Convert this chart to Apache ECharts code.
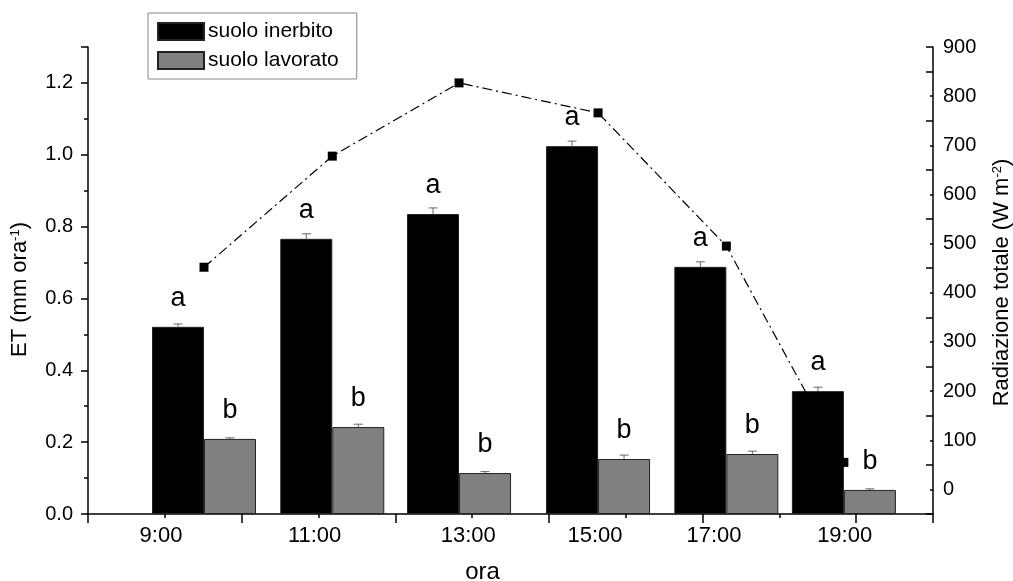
<!DOCTYPE html>
<html>
<head>
<meta charset="utf-8">
<script src="https://cdn.jsdelivr.net/npm/echarts@6/dist/echarts.min.js"></script>
<style>
html,body{margin:0;padding:0;background:#fff;}
#c{width:1013px;height:581px;}
</style>
</head>
<body>
<div id="c"></div>
<script>
// ---- data ----
const groupHour = [9.51, 11.18, 12.83, 14.64, 16.31, 17.84];        // group centre on the time axis (h)
const etInerbito = [0.521, 0.766, 0.835, 1.024, 0.688, 0.342];
const errInerbito = [0.008, 0.014, 0.017, 0.014, 0.014, 0.011];
const etLavorato = [0.209, 0.242, 0.114, 0.153, 0.167, 0.067];
const errLavorato = [0.003, 0.008, 0.004, 0.011, 0.008, 0.003];
const radiazione = [452, 678, 827, 766, 495, 55];
const letInerbito = ['a', 'a', 'a', 'a', 'a', 'a'];
const letLavorato = ['b', 'b', 'b', 'b', 'b', 'b'];
const timeLabels = ['9:00', '11:00', '13:00', '15:00', '17:00', '19:00'];
const timeLabelAt = [8.95, 10.95, 12.95, 14.6, 16.15, 17.85];

const FONT = 'Liberation Sans, Arial, sans-serif';
const BAR_W = 52;

const chart = echarts.init(document.getElementById('c'), null, {renderer: 'canvas'});

function pairs(xs, ys) { return xs.map((x, i) => [x, ys[i]]); }
function triples(xs, ys, es) { return xs.map((x, i) => [x, ys[i], es[i]]); }

function errRender(off) {
  return function (params, api) {
    const x = api.value(0), y = api.value(1), e = api.value(2);
    const p0 = api.coord([x, y]);
    const p1 = api.coord([x, y + e]);
    const cx = p0[0] + off;
    const st = {stroke: '#666', lineWidth: 1};
    return {
      type: 'group',
      children: [
        {type: 'line', shape: {x1: cx, y1: p0[1], x2: cx, y2: p1[1]}, style: st},
        {type: 'line', shape: {x1: cx - 4.5, y1: p1[1], x2: cx + 4.5, y2: p1[1]}, style: st}
      ]
    };
  };
}

const axisLineStyle = {show: true, onZero: false, lineStyle: {color: '#000', width: 1.5}};
const noLine = {show: false, onZero: false};
const sup = {fontSize: 13, lineHeight: 13, verticalAlign: 'top', fontFamily: FONT, color: '#000'};

const option = {
  animation: false,
  backgroundColor: '#fff',
  textStyle: {fontFamily: FONT},
  grid: {left: 88, right: 80, top: 47, bottom: 67, containLabel: false, outerBoundsMode: 'none'},
  legend: {
    orient: 'vertical',
    left: 148, top: 13,
    padding: [8, 18, 8, 9],
    itemWidth: 46, itemHeight: 17, itemGap: 8,
    borderColor: '#888', borderWidth: 1,
    icon: 'rect',
    data: ['suolo inerbito', 'suolo lavorato'],
    textStyle: {fontSize: 21, color: '#000', fontFamily: FONT, padding: [0, 0, 0, -1]}
  },
  xAxis: [
    { // main axis with major ticks
      type: 'value', min: 8, max: 19, interval: 2, position: 'bottom', offset: 0,
      axisLine: axisLineStyle,
      axisTick: {show: true, length: 9, lineStyle: {color: '#000', width: 1.5}},
      axisLabel: {show: false}, splitLine: {show: false},
      name: 'ora', nameLocation: 'middle', nameGap: 46,
      nameTextStyle: {fontSize: 24, color: '#000', fontFamily: FONT, padding: [0, 56, 0, 0]}
    },
    { // minor ticks
      type: 'value', min: 8, max: 19, interval: 1, position: 'bottom', offset: 0,
      axisLine: noLine,
      axisTick: {show: true, length: 4, lineStyle: {color: '#000', width: 1.5}},
      axisLabel: {show: false}, splitLine: {show: false}
    },
    { // hour labels
      type: 'value', min: 8, max: 19, interval: 0.05, position: 'bottom', offset: 0,
      axisLine: noLine, axisTick: {show: false}, splitLine: {show: false},
      axisLabel: {
        show: true, margin: 11, fontSize: 22, color: '#000', fontFamily: FONT,
        showMinLabel: true, showMaxLabel: true,
        formatter: function (v) {
          for (let i = 0; i < timeLabelAt.length; i++) {
            if (Math.abs(v - timeLabelAt[i]) < 0.01) return timeLabels[i];
          }
          return '';
        }
      }
    }
  ],
  yAxis: [
    { // left ET axis (minor step)
      type: 'value', min: 0, max: 1.3, interval: 0.1, position: 'left', offset: 0,
      axisLine: axisLineStyle,
      axisTick: {show: true, length: 4, lineStyle: {color: '#000', width: 1.5}},
      splitLine: {show: false},
      axisLabel: {
        margin: 15, fontSize: 20, color: '#000', fontFamily: FONT,
        formatter: function (v) {
          const k = Math.round(v * 10);
          return (k % 2 === 0 && k <= 12) ? (k / 10).toFixed(1) : '';
        }
      },
      name: 'ET (mm ora{sup|-1})', nameLocation: 'middle', nameRotate: 90, nameGap: 57,
      nameTextStyle: {fontSize: 22, color: '#000', fontFamily: FONT, rich: {sup: sup}, padding: [0, 18, 0, 0]}
    },
    { // right radiation axis (minor step)
      type: 'value', min: -50, max: 900, interval: 50, position: 'right', offset: 0,
      axisLine: axisLineStyle,
      axisTick: {show: true, inside: true, length: 3, lineStyle: {color: '#000', width: 1.5}},
      splitLine: {show: false},
      axisLabel: {
        margin: 10, fontSize: 20, color: '#000', fontFamily: FONT,
        formatter: function (v) {
          const r = Math.round(v);
          return (r >= 0 && r % 100 === 0) ? String(r) : '';
        }
      },
      name: 'Radiazione totale (W m{sup|-2})', nameLocation: 'middle', nameRotate: 90, nameGap: 58,
      nameTextStyle: {fontSize: 22, color: '#000', fontFamily: FONT, rich: {sup: sup}, padding: [0, 4, 0, 0]}
    },
    { // left major ticks
      type: 'value', min: 0, max: 1.3, interval: 0.2, position: 'left', offset: 0,
      axisLine: noLine, axisLabel: {show: false}, splitLine: {show: false},
      axisTick: {show: true, length: 7, lineStyle: {color: '#000', width: 1.5}}
    },
    { // right major ticks
      type: 'value', min: -50, max: 900, interval: 100, position: 'right', offset: 0,
      axisLine: noLine, axisLabel: {show: false}, splitLine: {show: false},
      axisTick: {show: true, inside: true, length: 7, lineStyle: {color: '#000', width: 1.5}}
    }
  ],
  series: [
    {
      name: 'suolo inerbito', type: 'bar', xAxisIndex: 0, yAxisIndex: 0,
      barWidth: BAR_W, barGap: '0%',
      data: pairs(groupHour, etInerbito),
      itemStyle: {color: '#000', borderColor: '#222', borderWidth: 1},
      label: {
        show: true, position: 'top', distance: 15, fontSize: 27, color: '#000', fontFamily: FONT,
        formatter: p => letInerbito[p.dataIndex]
      },
      z: 2
    },
    {
      name: 'suolo lavorato', type: 'bar', xAxisIndex: 0, yAxisIndex: 0,
      barWidth: BAR_W, barGap: '0%',
      data: pairs(groupHour, etLavorato),
      itemStyle: {color: '#808080', borderColor: '#222', borderWidth: 1},
      label: {
        show: true, position: 'top', distance: 15, fontSize: 27, color: '#000', fontFamily: FONT,
        formatter: p => letLavorato[p.dataIndex]
      },
      z: 2
    },
    {
      name: 'errInerbito', type: 'custom', xAxisIndex: 0, yAxisIndex: 0,
      data: triples(groupHour, etInerbito, errInerbito),
      encode: {x: 0, y: 1},
      renderItem: errRender(-BAR_W / 2), z: 3, silent: true
    },
    {
      name: 'errLavorato', type: 'custom', xAxisIndex: 0, yAxisIndex: 0,
      data: triples(groupHour, etLavorato, errLavorato),
      encode: {x: 0, y: 1},
      renderItem: errRender(BAR_W / 2), z: 3, silent: true
    },
    {
      name: 'Radiazione totale', type: 'line', xAxisIndex: 0, yAxisIndex: 1,
      data: pairs(groupHour, radiazione),
      symbol: 'rect', symbolSize: 9,
      itemStyle: {color: '#000'},
      lineStyle: {color: '#000', width: 1.2, type: [10, 4, 2, 4]},
      z: 4
    }
  ]
};
chart.setOption(option);
</script>
</body>
</html>
